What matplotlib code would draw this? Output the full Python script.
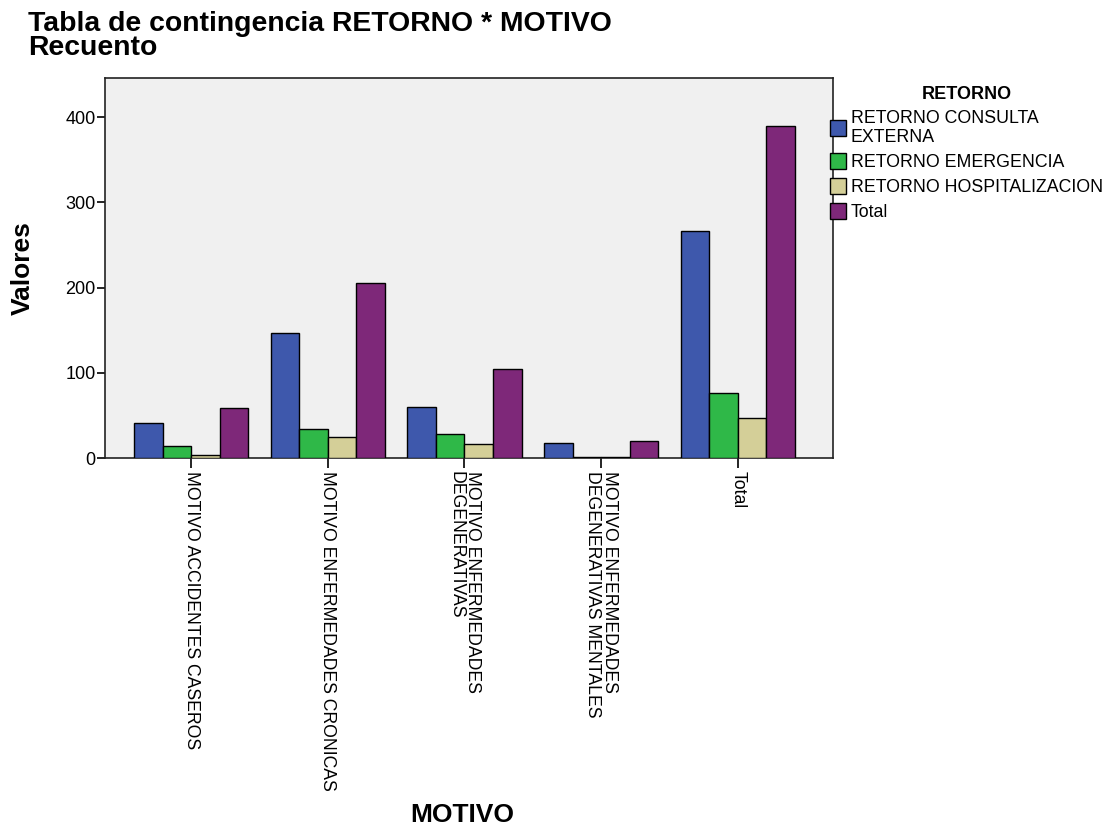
import numpy as np
import matplotlib
matplotlib.use("Agg")
import matplotlib.pyplot as plt

plt.rcParams['font.family'] = ['Liberation Sans', 'DejaVu Sans']

# datos
motivos = [
    "MOTIVO ACCIDENTES CASEROS",
    "MOTIVO ENFERMEDADES CRONICAS",
    "MOTIVO ENFERMEDADES\nDEGENERATIVAS",
    "MOTIVO ENFERMEDADES\nDEGENERATIVAS MENTALES",
    "Total",
]
series = [
    "RETORNO CONSULTA\nEXTERNA",
    "RETORNO EMERGENCIA",
    "RETORNO HOSPITALIZACION",
    "Total",
]
consulta_externa = [41, 147, 60, 18, 266]
emergencia = [14, 34, 28, 1, 77]
hospitalizacion = [4, 25, 17, 1, 47]
total = [59, 206, 105, 20, 390]
colores = ["#3E58AC", "#2FB848", "#D4CF98", "#7E2879"]

valores = [consulta_externa, emergencia, hospitalizacion, total]

fig = plt.figure(figsize=(11.2, 8.3), dpi=100)
ax = fig.add_axes([0.094, 0.448, 0.650, 0.458])
ax.set_facecolor("#F0F0F0")

x = np.arange(len(motivos))
ancho = 0.209
for i, (vals, nombre, col) in enumerate(zip(valores, series, colores)):
    ax.bar(x + (i - 1.5) * ancho, vals, ancho, color=col, edgecolor="black",
           linewidth=1.0, label=nombre, zorder=3)

ax.set_xlim(-0.63, 4.70)
ax.set_ylim(0, 446)
ax.set_yticks([0, 100, 200, 300, 400])
ax.set_xticks(x)
ax.set_xticklabels(motivos, rotation=270, ha="center", va="top",
                   fontsize=12.7, multialignment="left", linespacing=0.95)
ax.tick_params(axis="y", labelsize=13, length=6, width=1.2, direction="out", pad=1)
ax.tick_params(axis="x", length=7, width=1.2, direction="out", pad=2)
for s in ax.spines.values():
    s.set_linewidth(1.2)
    s.set_color("#222222")

fig.text(0.025, 0.987, "Tabla de contingencia RETORNO * MOTIVO\nRecuento",
         fontsize=20.4, fontweight="bold", va="top", ha="left", linespacing=0.92)
fig.text(0.020, 0.677, "Valores", rotation=90, fontsize=19, fontweight="bold",
         ha="center", va="center")
fig.text(0.413, 0.018, "MOTIVO", fontsize=19, fontweight="bold",
         ha="center", va="center")

fig.legend(loc="upper left", bbox_to_anchor=(0.735, 0.905), frameon=False,
           title="RETORNO", title_fontproperties={"weight": "bold", "size": 13},
           fontsize=12.8, handlelength=0.9, handleheight=1.0, handletextpad=0.25,
           labelspacing=0.38, borderaxespad=0)

fig.savefig("out.png", dpi=100)
